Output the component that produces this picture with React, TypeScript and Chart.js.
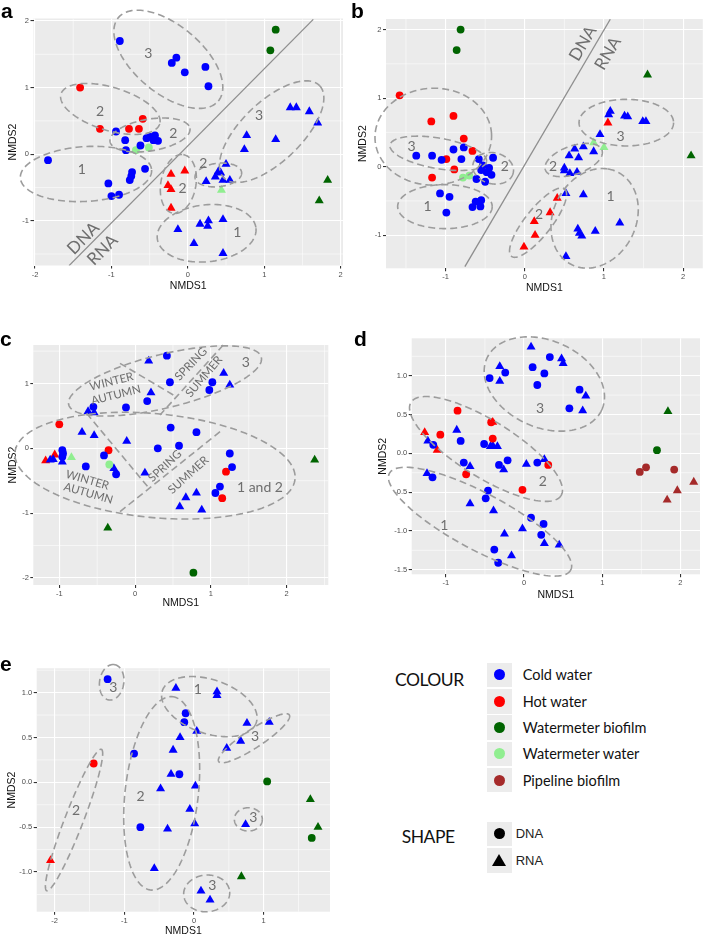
import React, { useEffect, useRef } from 'react';
import { Chart, registerables } from 'chart.js';
Chart.register(...registerables);

type P = [number, number];

const COL = {
  cold: '#0000ff',
  hot: '#ff0000',
  wmb: '#006400',
  wmw: '#90ee90',
  pipe: '#a52a2a',
};

// ---------------- Panel a ----------------
const A_COLD_DNA: P[] = [[-0.89,1.70],[-0.21,1.37],[-0.15,1.45],[-0.04,1.23],[0.23,1.31],[0.27,1.02],[-1.83,-0.09],[-0.94,0.34],[-0.82,0.21],[-0.81,0.06],[-0.62,0.13],[-0.54,0.24],[-0.49,0.26],[-0.43,0.28],[-0.39,0.20],[-0.45,0.21],[-0.56,-0.22],[-0.73,-0.27],[-0.74,-0.33],[-0.76,-0.39],[-1.04,-0.44],[-1.00,-0.63],[-0.90,-0.61]];
const A_HOT_DNA: P[] = [[-1.41,1.00],[-1.15,0.38],[-0.77,0.38],[-0.64,0.38],[-0.59,0.53]];
const A_WMW_DNA: P[] = [[-0.68,0.06],[-0.51,0.10]];
const A_WMB_DNA: P[] = [[1.15,1.87],[1.08,1.56]];
const A_COLD_RNA: P[] = [[1.34,0.70],[1.42,0.70],[1.59,0.64],[1.70,0.47],[0.77,0.28],[0.74,0.07],[1.15,0.22],[0.50,-0.15],[0.40,-0.26],[0.43,-0.28],[0.36,-0.34],[0.46,-0.39],[0.55,-0.39],[0.24,-0.41],[-0.13,-1.13],[0.16,-1.05],[0.27,-1.00],[0.26,-1.08],[0.46,-0.98],[0.08,-1.34],[0.46,-1.49]];
const A_HOT_RNA: P[] = [[-0.22,-0.30],[-0.04,-0.25],[-0.26,-0.47],[-0.22,-0.53],[-0.22,-0.81]];
const A_WMW_RNA: P[] = [[0.44,-0.54]];
const A_WMB_RNA: P[] = [[1.83,-0.39],[1.72,-0.70]];

// ---------------- Panel b ----------------
const B_COLD_DNA: P[] = [[-1.37,0.16],[-1.17,0.16],[-1.05,0.10],[-0.90,0.25],[-0.77,0.28],[-0.80,0.11],[-0.58,0.11],[-0.40,0.13],[-0.53,0.02],[-0.55,-0.05],[-0.48,-0.08],[-0.42,-0.12],[-0.45,-0.02],[-0.61,-0.18],[-0.50,-0.22],[-1.07,-0.39],[-0.95,-0.44],[-0.99,-0.67],[-0.66,-0.59],[-0.62,-0.51],[-0.56,-0.58],[-0.55,-0.49]];
const B_HOT_DNA: P[] = [[-1.58,1.04],[-1.18,0.66],[-0.90,0.74],[-0.77,0.41],[-0.66,0.23],[-0.99,0.11],[-0.89,-0.04],[-1.17,-0.16]];
const B_WMW_DNA: P[] = [[-0.78,-0.16],[-0.70,-0.13]];
const B_WMB_DNA: P[] = [[-0.81,2.00],[-0.86,1.70]];
const B_COLD_RNA: P[] = [[1.08,0.81],[1.06,0.76],[1.26,0.74],[1.30,0.73],[1.49,0.66],[1.53,0.66],[0.95,0.47],[0.87,0.22],[0.74,0.29],[0.63,0.26],[0.56,0.16],[0.68,0.13],[0.50,-0.02],[0.50,-0.06],[0.57,-0.10],[0.66,-0.08],[0.52,-0.39],[0.74,-0.41],[1.20,-0.82],[0.67,-0.91],[0.69,-0.97],[0.72,-1.01],[0.89,-0.94],[0.52,-1.31]];
const B_HOT_RNA: P[] = [[1.05,0.64],[0.41,-0.46],[0.32,-0.67],[0.12,-0.80],[0.13,-1.00],[-0.01,-1.17]];
const B_WMW_RNA: P[] = [[0.87,0.35],[1.00,0.28]];
const B_WMB_RNA: P[] = [[1.55,1.34],[2.10,0.16]];

// ---------------- Panel c ----------------
const C_COLD_DNA: P[] = [[0.42,1.43],[0.46,1.02],[1.02,1.02],[0.98,0.90],[0.16,0.73],[-0.12,0.63],[-0.55,0.64],[0.47,0.32],[0.81,0.25],[0.30,0.0],[0.58,0.04],[1.25,-0.08],[1.28,-0.29],[1.12,-0.59],[1.06,-0.69],[-0.41,-0.11],[-0.25,-0.40],[-0.65,-0.28],[-0.96,-0.03],[-0.95,-0.08],[-0.96,-0.13]];
const C_HOT_DNA: P[] = [[-1.00,0.37],[-0.35,-0.03],[1.20,-0.36],[1.15,-0.77]];
const C_WMW_DNA: P[] = [[-0.34,-0.25]];
const C_WMB_DNA: P[] = [[0.77,-1.92]];
const C_COLD_RNA: P[] = [[0.18,1.35],[1.17,1.16],[1.25,0.98],[0.21,0.86],[-0.62,0.57],[-0.54,0.55],[-0.70,0.25],[-0.54,0.20],[-0.11,0.11],[-0.28,-0.31],[0.13,-0.38],[0.81,-0.69],[0.67,-0.76],[0.59,-0.90],[0.88,-0.95],[-1.12,-0.18],[-1.08,-0.17],[-0.96,-0.21]];
const C_HOT_RNA: P[] = [[-1.18,-0.19],[-1.06,-0.10]];
const C_WMW_RNA: P[] = [[-0.84,-0.14]];
const C_WMB_RNA: P[] = [[-0.36,-1.23],[2.37,-0.18]];

// ---------------- Panel d ----------------
const D_COLD_DNA: P[] = [[-0.44,0.97],[-0.24,1.04],[0.11,1.11],[0.26,1.03],[0.33,1.24],[0.17,0.88],[0.71,0.82],[0.58,0.58],[-0.81,0.16],[-1.16,0.11],[-1.17,-0.31],[-0.77,-0.12],[-0.51,0.12],[-0.32,-0.15],[-0.21,-0.09],[0.17,-0.12],[-0.46,-0.48],[-0.49,-0.58],[0.09,-0.83],[0.25,-0.91],[0.22,-1.05],[-0.38,-1.24],[-0.33,-1.41]];
const D_HOT_DNA: P[] = [[-0.85,0.55],[-1.07,0.24],[-0.40,0.19],[-0.74,-0.27],[-0.02,-0.47],[0.31,-0.15],[-0.42,0.40]];
const D_WMB_DNA: P[] = [[1.70,0.04]];
const D_PIPE_DNA: P[] = [[1.48,-0.24],[1.56,-0.18],[1.92,-0.21]];
const D_COLD_RNA: P[] = [[0.09,1.37],[-0.31,1.12],[-0.31,0.93],[0.48,1.22],[0.50,1.16],[0.79,0.74],[0.75,0.55],[-0.86,0.30],[-1.23,0.16],[-1.24,-0.26],[-0.69,-0.17],[-0.43,0.09],[-0.34,0.09],[-0.40,0.10],[-0.26,-0.21],[0.03,-0.14],[0.26,-0.08],[-0.69,-0.65],[-0.39,-0.74],[-0.25,-1.04],[-0.02,-0.97],[0.26,-1.16],[0.45,-1.18],[-0.16,-1.32]];
const D_HOT_RNA: P[] = [[-1.27,0.27],[-1.11,0.04],[-0.40,0.40]];
const D_WMB_RNA: P[] = [[1.84,0.54]];
const D_PIPE_RNA: P[] = [[2.17,-0.37],[1.96,-0.48],[1.83,-0.60]];

// ---------------- Panel e ----------------
const E_COLD_DNA: P[] = [[-1.24,1.15],[-0.12,0.77],[-0.14,0.67],[-0.86,0.32],[-0.21,0.09],[-0.77,-0.50]];
const E_HOT_DNA: P[] = [[-1.44,0.21]];
const E_WMB_DNA: P[] = [[1.05,0.01],[1.69,-0.62]];
const E_COLD_RNA: P[] = [[-0.26,1.05],[0.33,1.01],[0.33,0.97],[0.76,0.66],[1.08,0.67],[0.67,0.46],[0.47,0.38],[0.04,0.57],[-0.20,0.50],[-0.30,0.36],[-0.33,0.09],[0.02,-0.04],[-0.48,-0.07],[-0.06,-0.30],[0.01,-0.46],[-0.38,-0.52],[-0.57,-0.96],[0.74,-0.47],[0.10,-1.21],[0.23,-1.31]];
const E_HOT_RNA: P[] = [[-2.06,-0.87]];
const E_WMB_RNA: P[] = [[1.67,-0.19],[1.78,-0.50],[0.68,-1.05]];

// ---------------- Ticks ----------------
const TICKS_A_X = [-2, -1, 0, 1, 2];
const TICKS_A_Y = [-1, 0, 1, 2];
const TICKS_B_X = [-1, 0, 1, 2];
const TICKS_B_Y = [-1, 0, 1, 2];
const TICKS_C_X = [-1, 0, 1, 2];
const TICKS_C_Y = [-2, -1, 0, 1];
const TICKS_D_X = [-1, 0, 1, 2];
const TICKS_D_Y = [-1.5, -1.0, -0.5, 0.0, 0.5, 1.0];
const TICKS_E_X = [-2, -1, 0, 1];
const TICKS_E_Y = [-1.0, -0.5, 0.0, 0.5, 1.0];

// ---------------- Annotations (data units) ----------------
// ellipse: [cx, cy, ax, ay, bx, by]  point = c + a cos t + b sin t
const A_ELLIPSES = [
  [-0.255, 1.425, 0.654, -0.626, 0.284, 0.391],
  [-1.014, 0.679, 0.646, -0.225, -0.083, -0.310],
  [-0.495, 0.288, 0.523, 0.100, 0.035, -0.235],
  [-1.333, -0.298, 0.859, 0.060, 0.022, -0.411],
  [-0.124, -0.448, 0.065, 0.441, 0.227, -0.040],
  [0.399, -0.313, 0.305, 0.040, 0.017, -0.175],
  [0.246, -1.189, 0.646, 0.075, 0.035, -0.426],
  [1.097, 0.338, 0.628, 0.691, 0.270, -0.325],
];
const B_ELLIPSES = [
  [-1.155, 0.438, 0.735, 0.049, 0.042, -0.705],
  [-1.092, 0.194, 0.609, -0.122, -0.034, -0.219],
  [-0.399, -0.024, 0.252, -0.073, -0.050, -0.219],
  [-1.008, -0.583, 0.597, 0, 0, -0.321],
  [1.282, 0.642, 0.597, 0, 0, -0.340],
  [0.618, 0.097, 0.357, 0.146, 0.063, -0.194],
  [0.882, -0.754, 0.168, 0.720, 0.525, -0.097],
  [0.168, -0.817, 0.336, 0.491, 0.130, -0.122],
];
const C_ELLIPSES = [
  [0.395, 1.040, 1.271, 0.365, 0.084, -0.401],
  [0.263, -0.268, 1.848, -0.206, -0.066, -0.798],
];
const C_DIVIDERS = [
  [-0.199, 1.312, 0.505, 0.823],
  [1.164, 1.595, 0.329, 0.515],
  [-0.639, 0.540, 0.174, -0.602],
  [1.121, 0.257, -0.199, -0.978],
];
const D_ELLIPSES = [
  [0.260, 0.893, 0.733, -0.335, -0.234, -0.507],
  [-0.486, 0.056, 0.959, -0.601, -0.192, -0.309],
  [-0.562, -0.881, 1.159, -0.623, -0.170, -0.322],
];
const E_ELLIPSES = [
  [-1.182, 1.115, 0.038, 0.197, 0.172, -0.019],
  [0.220, 0.844, 0.670, -0.186, -0.144, -0.279],
  [-0.464, -0.123, 0.144, 1.078, 0.526, -0.019],
  [0.861, 0.491, 0.507, 0.260, 0.072, -0.086],
  [0.780, -0.413, 0.201, 0, 0, -0.130],
  [0.182, -1.238, 0.330, 0.019, 0.019, -0.204],
  [-1.722, -0.420, 0.392, 0.788, 0.124, -0.037],
];
const A_SPLIT = [[-1.555, -1.675, 1.642, 2.025]];
const B_SPLIT = [[-0.756, -1.458, 1.08, 2.15]];

interface TextItem { x: number; y: number; s: string; rot: number; size: number }
const A_TEXT: TextItem[] = [
  { x: -0.517, y: 1.515, s: '3', rot: 0, size: 14 },
  { x: -1.149, y: 0.638, s: '2', rot: 0, size: 14 },
  { x: -0.190, y: 0.313, s: '2', rot: 0, size: 14 },
  { x: -1.389, y: -0.228, s: '1', rot: 0, size: 14 },
  { x: -0.068, y: -0.513, s: '2', rot: 0, size: 14 },
  { x: 0.203, y: -0.138, s: '2', rot: 0, size: 14 },
  { x: 0.648, y: -1.179, s: '1', rot: 0, size: 14 },
  { x: 0.931, y: 0.588, s: '3', rot: 0, size: 14 },
  { x: -1.367, y: -1.264, s: 'DNA', rot: -45, size: 17 },
  { x: -1.115, y: -1.440, s: 'RNA', rot: -45, size: 17 },
];
const B_TEXT: TextItem[] = [
  { x: -1.429, y: 0.292, s: '3', rot: 0, size: 14 },
  { x: -0.252, y: 0.0, s: '2', rot: 0, size: 14 },
  { x: -1.227, y: -0.583, s: '1', rot: 0, size: 14 },
  { x: 0.357, y: 0.0, s: '2', rot: 0, size: 14 },
  { x: 1.210, y: 0.447, s: '3', rot: 0, size: 14 },
  { x: 1.084, y: -0.428, s: '1', rot: 0, size: 14 },
  { x: 0.181, y: -0.705, s: '2', rot: 0, size: 14 },
  { x: 0.735, y: 1.799, s: 'DNA', rot: -59.5, size: 17 },
  { x: 1.050, y: 1.653, s: 'RNA', rot: -59.5, size: 17 },
];
const C_TEXT: TextItem[] = [
  { x: -0.310, y: 1.029, s: 'WINTER', rot: -14, size: 11.5 },
  { x: -0.252, y: 0.823, s: 'AUTUMN', rot: -14, size: 11.5 },
  { x: 0.738, y: 1.302, s: 'SPRING', rot: -46, size: 11.5 },
  { x: 0.909, y: 1.107, s: 'SUMMER', rot: -50, size: 11.5 },
  { x: 1.463, y: 1.323, s: '3', rot: 0, size: 14 },
  { x: 0.395, y: -0.273, s: 'SPRING', rot: -43, size: 11.5 },
  { x: 0.703, y: -0.412, s: 'SUMMER', rot: -42, size: 11.5 },
  { x: -0.630, y: -0.489, s: 'WINTER', rot: 16, size: 11.5 },
  { x: -0.617, y: -0.695, s: 'AUTUMN', rot: 16, size: 11.5 },
  { x: 1.648, y: -0.602, s: '1 and 2', rot: 0, size: 14 },
];
const D_TEXT: TextItem[] = [
  { x: 0.205, y: 0.580, s: '3', rot: 0, size: 14 },
  { x: 0.239, y: -0.365, s: '2', rot: 0, size: 14 },
  { x: -1.018, y: -0.924, s: '1', rot: 0, size: 14 },
];
const E_TEXT: TextItem[] = [
  { x: -1.158, y: 1.059, s: '3', rot: 0, size: 14 },
  { x: 0.053, y: 1.030, s: '1', rot: 0, size: 14 },
  { x: -0.766, y: -0.160, s: '2', rot: 0, size: 14 },
  { x: 0.876, y: 0.509, s: '3', rot: 0, size: 14 },
  { x: 0.852, y: -0.394, s: '3', rot: 0, size: 14 },
  { x: 0.263, y: -1.145, s: '3', rot: 0, size: 14 },
  { x: -1.694, y: -0.309, s: '2', rot: 0, size: 14 },
];

// ---------------- Legend ----------------
const LEGEND_COLOURS = [
  { label: 'Cold water', color: COL.cold },
  { label: 'Hot water', color: COL.hot },
  { label: 'Watermeter biofilm', color: COL.wmb },
  { label: 'Watermeter water', color: COL.wmw },
  { label: 'Pipeline biofilm', color: COL.pipe },
];
const LEGEND_SHAPES = ['DNA', 'RNA'];

// ---------------- Types / panels ----------------
interface Series { color: string; shape: 'circle' | 'triangle'; data: P[] }
interface PanelCfg {
  letter: string;
  letterPos: [number, number];
  box: { x: number; y: number; w: number; h: number };
  area: { l: number; t: number; r: number; b: number };
  xTitleY: number; yTitleX: number;
  xRange: [number, number]; yRange: [number, number];
  xTicks: number[]; yTicks: number[]; yDec: number;
  series: Series[];
  ellipses: number[][];
  dashLines: number[][];
  solidLines: number[][];
  texts: TextItem[];
}

const S = (color: string, shape: 'circle' | 'triangle', data: P[]): Series => ({ color, shape, data });

const PANELS: PanelCfg[] = [
  {
    letter: 'a', letterPos: [1, 0],
    box: { x: 0, y: 0, w: 352, h: 300 },
    area: { l: 33.5, t: 18.5, r: 343, b: 265.5 },
    xTitleY: 286, yTitleX: 13.3,
    xRange: [-2.02, 2.031], yRange: [-1.673, 2.038],
    xTicks: TICKS_A_X, yTicks: TICKS_A_Y, yDec: 0,
    series: [S(COL.cold, 'circle', A_COLD_DNA), S(COL.hot, 'circle', A_HOT_DNA), S(COL.wmw, 'circle', A_WMW_DNA), S(COL.wmb, 'circle', A_WMB_DNA),
      S(COL.cold, 'triangle', A_COLD_RNA), S(COL.hot, 'triangle', A_HOT_RNA), S(COL.wmw, 'triangle', A_WMW_RNA), S(COL.wmb, 'triangle', A_WMB_RNA)],
    ellipses: A_ELLIPSES, dashLines: [], solidLines: A_SPLIT, texts: A_TEXT,
  },
  {
    letter: 'b', letterPos: [351, 0],
    box: { x: 350, y: 0, w: 358, h: 300 },
    area: { l: 386, t: 19, r: 703.3, b: 268.3 },
    xTitleY: 288.3, yTitleX: 363.3,
    xRange: [-1.752, 2.248], yRange: [-1.483, 2.154],
    xTicks: TICKS_B_X, yTicks: TICKS_B_Y, yDec: 0,
    series: [S(COL.cold, 'circle', B_COLD_DNA), S(COL.hot, 'circle', B_HOT_DNA), S(COL.wmw, 'circle', B_WMW_DNA), S(COL.wmb, 'circle', B_WMB_DNA),
      S(COL.cold, 'triangle', B_COLD_RNA), S(COL.hot, 'triangle', B_HOT_RNA), S(COL.wmw, 'triangle', B_WMW_RNA), S(COL.wmb, 'triangle', B_WMB_RNA)],
    ellipses: B_ELLIPSES, dashLines: [], solidLines: B_SPLIT, texts: B_TEXT,
  },
  {
    letter: 'c', letterPos: [0, 327.75],
    box: { x: 0, y: 300, w: 352, h: 312 },
    area: { l: 33.3, t: 345, r: 328.3, b: 585 },
    xTitleY: 603.5, yTitleX: 13.3,
    xRange: [-1.343, 2.55], yRange: [-2.11, 1.595],
    xTicks: TICKS_C_X, yTicks: TICKS_C_Y, yDec: 0,
    series: [S(COL.cold, 'circle', C_COLD_DNA), S(COL.hot, 'circle', C_HOT_DNA), S(COL.wmw, 'circle', C_WMW_DNA), S(COL.wmb, 'circle', C_WMB_DNA),
      S(COL.cold, 'triangle', C_COLD_RNA), S(COL.hot, 'triangle', C_HOT_RNA), S(COL.wmw, 'triangle', C_WMW_RNA), S(COL.wmb, 'triangle', C_WMB_RNA)],
    ellipses: C_ELLIPSES, dashLines: C_DIVIDERS, solidLines: [], texts: C_TEXT,
  },
  {
    letter: 'd', letterPos: [354, 327.75],
    box: { x: 350, y: 300, w: 358, h: 305 },
    area: { l: 411.7, t: 338.3, r: 700, b: 574.3 },
    xTitleY: 595, yTitleX: 383.3,
    xRange: [-1.436, 2.25], yRange: [-1.559, 1.482],
    xTicks: TICKS_D_X, yTicks: TICKS_D_Y, yDec: 1,
    series: [S(COL.cold, 'circle', D_COLD_DNA), S(COL.hot, 'circle', D_HOT_DNA), S(COL.wmb, 'circle', D_WMB_DNA), S(COL.pipe, 'circle', D_PIPE_DNA),
      S(COL.cold, 'triangle', D_COLD_RNA), S(COL.hot, 'triangle', D_HOT_RNA), S(COL.wmb, 'triangle', D_WMB_RNA), S(COL.pipe, 'triangle', D_PIPE_RNA)],
    ellipses: D_ELLIPSES, dashLines: [], solidLines: [], texts: D_TEXT,
  },
  {
    letter: 'e', letterPos: [0, 652.75],
    box: { x: 0, y: 612, w: 352, h: 325 },
    area: { l: 36.7, t: 668.3, r: 330, b: 911.7 },
    xTitleY: 931.5, yTitleX: 11.7,
    xRange: [-2.258, 1.952], yRange: [-1.442, 1.271],
    xTicks: TICKS_E_X, yTicks: TICKS_E_Y, yDec: 1,
    series: [S(COL.cold, 'circle', E_COLD_DNA), S(COL.hot, 'circle', E_HOT_DNA), S(COL.wmb, 'circle', E_WMB_DNA),
      S(COL.cold, 'triangle', E_COLD_RNA), S(COL.hot, 'triangle', E_HOT_RNA), S(COL.wmb, 'triangle', E_WMB_RNA)],
    ellipses: E_ELLIPSES, dashLines: [], solidLines: [], texts: E_TEXT,
  },
];

const AXIS_FONT = '"Liberation Sans", Arial, sans-serif';
const NOTE_FONT = 'Lato, "Open Sans", sans-serif';
const TITLE_SIZE = 10.5;

function minorTicks(t: number[], min: number, max: number): number[] {
  const out: number[] = [];
  const step = t[1] - t[0];
  const all = [t[0] - step, ...t, t[t.length - 1] + step];
  for (let i = 0; i < all.length - 1; i++) {
    const m = (all[i] + all[i + 1]) / 2;
    if (m > min && m < max) out.push(m);
  }
  return out;
}

function PanelChart({ cfg }: { cfg: PanelCfg }) {
  const ref = useRef<HTMLCanvasElement>(null);
  useEffect(() => {
    const c = cfg;
    const half = TITLE_SIZE / 2;
    const relL = c.area.l - c.box.x;
    const relT = c.area.t - c.box.y;
    const relR = c.area.r - c.box.x;
    const relB = c.area.b - c.box.y;
    const yAxisLeft = c.yTitleX - c.box.x - half;
    const xAxisBottom = c.xTitleY - c.box.y + half;
    const yW = relL - yAxisLeft;
    const xH = xAxisBottom - relB;

    const deco = {
      id: 'deco',
      beforeDraw(chart: any) {
        const { ctx, chartArea: a } = chart;
        ctx.save();
        ctx.fillStyle = '#ebebeb';
        ctx.fillRect(a.left, a.top, a.right - a.left, a.bottom - a.top);
        ctx.restore();
      },
      beforeDatasetsDraw(chart: any) {
        const { ctx, chartArea: a } = chart;
        const xs = chart.scales.x, ys = chart.scales.y;
        ctx.save();
        ctx.strokeStyle = '#ffffff';
        ctx.lineWidth = 0.55;
        for (const v of minorTicks(c.xTicks, c.xRange[0], c.xRange[1])) {
          const p = xs.getPixelForValue(v);
          ctx.beginPath(); ctx.moveTo(p, a.top); ctx.lineTo(p, a.bottom); ctx.stroke();
        }
        for (const v of minorTicks(c.yTicks, c.yRange[0], c.yRange[1])) {
          const p = ys.getPixelForValue(v);
          ctx.beginPath(); ctx.moveTo(a.left, p); ctx.lineTo(a.right, p); ctx.stroke();
        }
        ctx.restore();
      },
      afterDatasetsDraw(chart: any) {
        const { ctx, chartArea: a } = chart;
        const xs = chart.scales.x, ys = chart.scales.y;
        const X = (v: number) => xs.getPixelForValue(v);
        const Y = (v: number) => ys.getPixelForValue(v);
        ctx.save();
        ctx.save();
        ctx.beginPath(); ctx.rect(a.left, a.top, a.right - a.left, a.bottom - a.top); ctx.clip();
        ctx.strokeStyle = '#8e8e8e';
        ctx.lineWidth = 1.3;
        for (const l of c.solidLines) {
          ctx.beginPath(); ctx.moveTo(X(l[0]), Y(l[1])); ctx.lineTo(X(l[2]), Y(l[3])); ctx.stroke();
        }
        ctx.restore();
        ctx.strokeStyle = '#9c9c9c';
        ctx.lineWidth = 1.6;
        ctx.setLineDash([7, 4]);
        for (const e of c.ellipses) {
          ctx.beginPath();
          const N = 160;
          for (let i = 0; i <= N; i++) {
            const t = (i / N) * Math.PI * 2;
            const px = X(e[0] + e[2] * Math.cos(t) + e[4] * Math.sin(t));
            const py = Y(e[1] + e[3] * Math.cos(t) + e[5] * Math.sin(t));
            if (i === 0) ctx.moveTo(px, py); else ctx.lineTo(px, py);
          }
          ctx.stroke();
        }
        for (const l of c.dashLines) {
          ctx.beginPath(); ctx.moveTo(X(l[0]), Y(l[1])); ctx.lineTo(X(l[2]), Y(l[3])); ctx.stroke();
        }
        ctx.setLineDash([]);
        ctx.fillStyle = '#6e6e6e';
        ctx.textAlign = 'center';
        ctx.textBaseline = 'middle';
        for (const t of c.texts) {
          ctx.save();
          ctx.translate(X(t.x), Y(t.y));
          ctx.rotate((t.rot * Math.PI) / 180);
          ctx.font = `${t.size}px ${NOTE_FONT}`;
          ctx.fillText(t.s, 0, 0);
          ctx.restore();
        }
        ctx.restore();
      },
    };

    const chart = new Chart(ref.current as HTMLCanvasElement, {
      type: 'scatter',
      data: {
        datasets: c.series.map((s) => ({
          data: s.data.map(([x, y]) => ({ x, y })),
          pointStyle: s.shape,
          backgroundColor: s.color,
          borderColor: s.color,
          borderWidth: 0,
          pointRadius: s.shape === 'circle' ? 3.9 : 5.2,
          pointHoverRadius: s.shape === 'circle' ? 3.9 : 5.2,
        })),
      },
      options: {
        animation: false,
        responsive: false,
        events: [],
        layout: {
          padding: {
            left: yAxisLeft,
            top: relT,
            right: c.box.w - relR,
            bottom: c.box.h - xAxisBottom,
          },
        },
        plugins: { legend: { display: false }, tooltip: { enabled: false } },
        scales: {
          x: {
            type: 'linear',
            min: c.xRange[0],
            max: c.xRange[1],
            afterBuildTicks: (sc: any) => { sc.ticks = c.xTicks.map((v) => ({ value: v })); },
            afterFit: (sc: any) => { sc.height = xH; },
            grid: { color: '#ffffff', lineWidth: 1.1, tickColor: '#333333', tickLength: 3, drawTicks: true },
            border: { display: false },
            ticks: {
              color: '#4d4d4d', padding: 1.5, maxRotation: 0, autoSkip: false,
              font: { size: 7.5, family: AXIS_FONT },
              callback: (v: any) => Number(v).toFixed(0),
            },
            title: { display: true, text: 'NMDS1', color: '#111', padding: 0, font: { size: TITLE_SIZE, family: AXIS_FONT, lineHeight: 1 } },
          },
          y: {
            type: 'linear',
            min: c.yRange[0],
            max: c.yRange[1],
            afterBuildTicks: (sc: any) => { sc.ticks = c.yTicks.map((v) => ({ value: v })); },
            afterFit: (sc: any) => { sc.width = yW; },
            grid: { color: '#ffffff', lineWidth: 1.1, tickColor: '#333333', tickLength: 3, drawTicks: true },
            border: { display: false },
            ticks: {
              color: '#4d4d4d', padding: 1.5, autoSkip: false,
              font: { size: 7.5, family: AXIS_FONT },
              callback: (v: any) => Number(v).toFixed(c.yDec),
            },
            title: { display: true, text: 'NMDS2', color: '#111', padding: 0, font: { size: TITLE_SIZE, family: AXIS_FONT, lineHeight: 1 } },
          },
        },
      } as any,
      plugins: [deco as any],
    });
    return () => chart.destroy();
  }, [cfg]);
  return (
    <canvas
      ref={ref}
      width={cfg.box.w}
      height={cfg.box.h}
      style={{ position: 'absolute', left: cfg.box.x, top: cfg.box.y, width: cfg.box.w, height: cfg.box.h }}
    />
  );
}

function Legend() {
  const boxL = 486.7;
  const boxW = 25;
  const colTop = 662.7;
  const step = 26.3;
  const boxH = 24.6;
  const shapeTop = 821.7;
  const textStyle: React.CSSProperties = { position: 'absolute', fontFamily: NOTE_FONT, color: '#111', whiteSpace: 'nowrap', display: 'flex', alignItems: 'center' };
  return (
    <>
      <div style={{ ...textStyle, left: 395, top: 667.5, height: 24, fontSize: 17.5, letterSpacing: -0.5 }}>COLOUR</div>
      {LEGEND_COLOURS.map((it, i) => (
        <React.Fragment key={it.label}>
          <div style={{ position: 'absolute', left: boxL, top: colTop + i * step, width: boxW, height: boxH, background: '#ececec' }}>
            <div style={{ position: 'absolute', left: boxW / 2 - 5.5, top: boxH / 2 - 5.5, width: 11, height: 11, borderRadius: '50%', background: it.color }} />
          </div>
          <div style={{ ...textStyle, left: 522.7, top: colTop + i * step, height: boxH, fontSize: 14.5 }}>{it.label}</div>
        </React.Fragment>
      ))}
      <div style={{ ...textStyle, left: 401.7, top: 824.7, height: 24, fontSize: 17.5, letterSpacing: -0.5 }}>SHAPE</div>
      {LEGEND_SHAPES.map((s, i) => (
        <React.Fragment key={s}>
          <div style={{ position: 'absolute', left: boxL, top: shapeTop + i * step, width: boxW, height: boxH, background: '#ececec' }}>
            {i === 0 ? (
              <div style={{ position: 'absolute', left: boxW / 2 - 5.5, top: boxH / 2 - 5.5, width: 11, height: 11, borderRadius: '50%', background: '#000' }} />
            ) : (
              <div style={{ position: 'absolute', left: boxW / 2 - 7, top: boxH / 2 - 6.5, width: 0, height: 0, borderLeft: '7px solid transparent', borderRight: '7px solid transparent', borderBottom: '12px solid #000' }} />
            )}
          </div>
          <div style={{ ...textStyle, left: 515.7, top: shapeTop + i * step, height: boxH, fontSize: 13, fontFamily: AXIS_FONT, color: '#222' }}>{s}</div>
        </React.Fragment>
      ))}
    </>
  );
}

export default function App() {
  return (
    <div style={{ position: 'absolute', left: 0, top: 0, width: 708, height: 937, background: '#fff', overflow: 'hidden' }}>
      {PANELS.map((p) => (
        <PanelChart key={p.letter} cfg={p} />
      ))}
      {PANELS.map((p) => (
        <div key={'l' + p.letter} style={{ position: 'absolute', left: p.letterPos[0], top: p.letterPos[1], fontFamily: AXIS_FONT, fontWeight: 'bold', fontSize: 21, lineHeight: '21px', color: '#000' }}>{p.letter}</div>
      ))}
      <Legend />
    </div>
  );
}
